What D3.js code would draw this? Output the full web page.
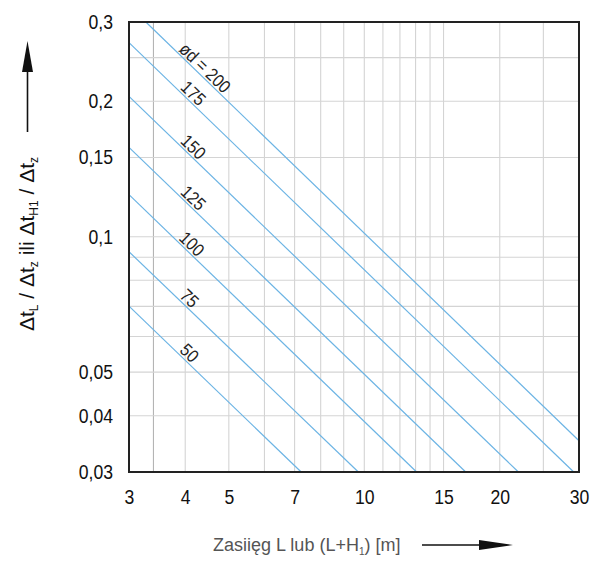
<!DOCTYPE html>
<html>
<head>
<meta charset="utf-8">
<script src="https://cdn.jsdelivr.net/npm/d3@7"></script>
<style>
  html, body { margin: 0; padding: 0; background: #fff; }
  svg { display: block; }
  text { font-family: "Liberation Sans", Arial, sans-serif; }
</style>
</head>
<body>
<svg id="chart" width="608" height="561"></svg>
<script>
// Pipe diameters (mm) and the end points of each line on the log-log grid
const diameters = [200, 175, 150, 125, 100, 75, 50];
const lineLabels = ["ød = 200", "175", "150", "125", "100", "75", "50"];
const startRange = [3.27, 3, 3, 3, 3, 3, 3];
const startRatio = [0.3, 0.27, 0.205, 0.158, 0.124, 0.0926, 0.0701];
const endRange = [30, 29.2, 22.0, 16.8, 13.07, 9.70, 7.24];
const endRatio = [0.0352, 0.03, 0.03, 0.03, 0.03, 0.03, 0.03];
// Range value at which each diameter label sits on its line
const labelRange = [4.3, 4.05, 4.05, 4.05, 4.02, 3.97, 3.97];

// Axis ticks and grid lines
const xTicks = [3, 4, 5, 7, 10, 15, 20, 30];
const yTicks = [0.03, 0.04, 0.05, 0.1, 0.15, 0.2, 0.3];
const xGrid = [3.4, 4, 5, 6, 7, 8, 9, 10, 11, 12, 13, 14, 15, 20, 25];
const yGrid = [0.04, 0.05, 0.06, 0.07, 0.08, 0.09, 0.1, 0.15, 0.2, 0.25];

const svg = d3.select("#chart");
const pLeft = 129, pTop = 22, pRight = 579, pBottom = 472;

const x = d3.scaleLog().domain([3, 30]).range([pLeft, pRight]);
const y = d3.scaleLog().domain([0.03, 0.3]).range([pBottom, pTop]);

const fmt = d => String(d).replace(".", ",");

// narrow the glyphs horizontally to get a condensed look
function condense(sel, k) {
  sel.each(function () {
    const w = this.getComputedTextLength();
    d3.select(this).attr("textLength", w * k).attr("lengthAdjust", "spacingAndGlyphs");
  });
}

// grid
const grid = svg.append("g");
grid.selectAll("line.vx").data(xGrid).join("line")
  .attr("x1", d => x(d)).attr("x2", d => x(d))
  .attr("y1", pTop).attr("y2", pBottom)
  .attr("stroke", d => d === 3.4 ? "#b4b4b4" : "#d4d4d4")
  .attr("stroke-width", 1.1);
grid.selectAll("line.hy").data(yGrid).join("line")
  .attr("x1", pLeft).attr("x2", pRight)
  .attr("y1", d => y(d)).attr("y2", d => y(d))
  .attr("stroke", "#d4d4d4")
  .attr("stroke-width", 1.1);

// diameter lines
const idx = d3.range(diameters.length);
const lineGen = d3.line().x(d => x(d[0])).y(d => y(d[1]));
svg.append("g").selectAll("path").data(idx).join("path")
  .attr("d", i => lineGen([[startRange[i], startRatio[i]], [endRange[i], endRatio[i]]]))
  .attr("fill", "none")
  .attr("stroke", "#6cb4e4")
  .attr("stroke-width", 1.2);

// labels along the lines
const labels = svg.append("g").selectAll("text").data(idx).join("text")
  .attr("transform", i => {
    const x0 = x(startRange[i]), y0 = y(startRatio[i]);
    const x1 = x(endRange[i]), y1 = y(endRatio[i]);
    const ang = Math.atan2(y1 - y0, x1 - x0) * 180 / Math.PI;
    const lx = x(labelRange[i]);
    const t = Math.log(labelRange[i] / startRange[i]) / Math.log(endRange[i] / startRange[i]);
    const ly = y0 + t * (y1 - y0);
    return `translate(${lx},${ly}) rotate(${ang})`;
  })
  .attr("text-anchor", "middle")
  .attr("dy", -2)
  .attr("font-size", 18)
  .attr("fill", "#222")
  .text(i => lineLabels[i]);
condense(labels, 0.88);

// frame
svg.append("rect")
  .attr("x", pLeft).attr("y", pTop)
  .attr("width", pRight - pLeft).attr("height", pBottom - pTop)
  .attr("fill", "none").attr("stroke", "#222").attr("stroke-width", 2);

// axes
const xAxis = d3.axisBottom(x).tickValues(xTicks).tickFormat(fmt).tickSize(0).tickPadding(18);
const gx = svg.append("g").attr("transform", `translate(0,${pBottom})`).call(xAxis);
gx.select(".domain").remove();
gx.selectAll("text").attr("font-size", 20).attr("fill", "#111").attr("font-family", "Liberation Sans, Arial, sans-serif");
condense(gx.selectAll("text"), 0.88);

const yAxis = d3.axisLeft(y).tickValues(yTicks).tickFormat(fmt).tickSize(0).tickPadding(16);
const gy = svg.append("g").attr("transform", `translate(${pLeft},0)`).call(yAxis);
gy.select(".domain").remove();
gy.selectAll("text").attr("font-size", 20).attr("fill", "#111").attr("font-family", "Liberation Sans, Arial, sans-serif");
condense(gy.selectAll("text"), 0.88);

// y title
const yt = svg.append("text")
  .attr("transform", "translate(34,244) rotate(-90)")
  .attr("text-anchor", "middle")
  .attr("font-size", 21)
  .attr("fill", "#111");
const sub = (parent, s) => parent.append("tspan").attr("font-size", 12).attr("dy", 4).text(s);
const back = (parent, s) => parent.append("tspan").attr("dy", -4).text(s);
yt.append("tspan").text("Δt");
sub(yt, "L");
back(yt, " / Δt");
sub(yt, "z");
back(yt, " ili Δt");
sub(yt, "H1");
back(yt, " / Δt");
sub(yt, "z");

// y arrow
const ya = svg.append("g");
ya.append("line").attr("x1", 27.5).attr("x2", 27.5).attr("y1", 132).attr("y2", 60)
  .attr("stroke", "#111").attr("stroke-width", 1.6);
ya.append("path").attr("d", d3.line()([[27.5, 41], [22, 72], [33, 72]]) + "Z").attr("fill", "#111");

// x title
const xt = svg.append("text")
  .attr("x", 213).attr("y", 551)
  .attr("font-size", 18)
  .attr("fill", "#555");
xt.append("tspan").text("Zasiięg L lub (L+H");
xt.append("tspan").attr("font-size", 10).attr("dy", 4).text("1");
xt.append("tspan").attr("dy", -4).text(") [m]");

// x arrow
const xa = svg.append("g");
xa.append("line").attr("x1", 422).attr("x2", 490).attr("y1", 545).attr("y2", 545)
  .attr("stroke", "#111").attr("stroke-width", 1.6);
xa.append("path").attr("d", d3.line()([[513, 545], [479, 540], [479, 550]]) + "Z").attr("fill", "#111");
</script>
</body>
</html>
